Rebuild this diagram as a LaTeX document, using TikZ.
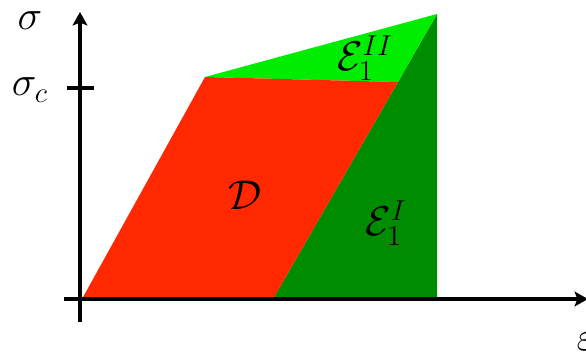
\documentclass[tikz,border=0pt]{standalone}
\usepackage{amsmath,amssymb}
\usepackage{graphicx}
\usepackage{tikz}
\usetikzlibrary{arrows.meta,positioning,calc}
\definecolor{DomRed}{RGB}{255,40,0}
\definecolor{LightGreen}{RGB}{0,236,0}
\definecolor{DarkGreen}{RGB}{0,140,0}
\newcommand{\biglbl}[1]{\scalebox{1.5}{$#1$}}

\begin{document}
\begin{tikzpicture}[x=0.75pt, y=-0.75pt, every node/.style={font=\huge, inner sep=0pt},
  axis/.style={line width=2.3pt, -{Stealth[length=10pt,width=11pt,inset=2pt]}}]
\useasboundingbox (0,0) rectangle (586,351);
% corners of the regions
\coordinate (O) at (82,299);
\coordinate (A) at (205,77);
\coordinate (B) at (398,82);
\coordinate (C) at (273,299);
\coordinate (T) at (437,14);
\coordinate (R) at (437,299);
\fill[DarkGreen] (C) -- (R) -- (T) -- (B) -- cycle;
\fill[LightGreen] (A) -- (T) -- (B) -- cycle;
\fill[DomRed] (O) -- (A) -- (B) -- (C) -- cycle;

% axes
\coordinate (ybot) at (80,322);
\coordinate (ytop) at (80,12);
\coordinate (xleft) at (64,299);
\coordinate (xright) at (588,299);
\draw[axis] (ybot) -- (ytop);
\draw[axis] (xleft) -- (xright);
\coordinate (tickL) at (67,88);
\coordinate (tickR) at (94,88);
\draw[line width=2.3pt] (tickL) -- (tickR);

\node (sig) at (30,21) {\biglbl{\sigma}};
\node (sigc) at (30,90) {\biglbl{\sigma_c}};
\node (eps) at (586,342) {\biglbl{\varepsilon}};
\node (dom) at (245,195) {\biglbl{\mathcal{D}}};
\node (e2) at (365,58) {\biglbl{\mathcal{E}_1^{II}}};
\node (e1) at (386,223) {\biglbl{\mathcal{E}_1^{I}}};
\end{tikzpicture}
\end{document}
